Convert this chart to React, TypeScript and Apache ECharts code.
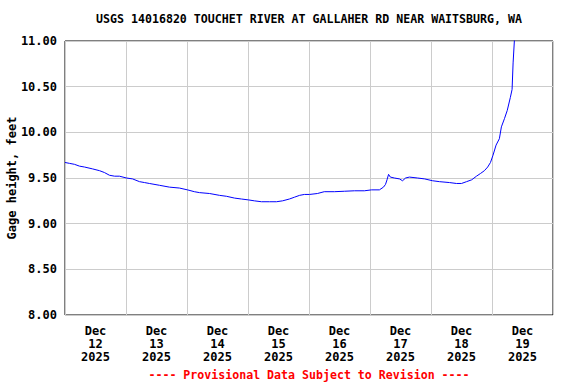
import React, { useEffect, useRef } from "react";
import * as echarts from "echarts";

const TITLE = "USGS 14016820 TOUCHET RIVER AT GALLAHER RD NEAR WAITSBURG, WA";
const FOOTER = "---- Provisional Data Subject to Revision ----";
const Y_NAME = "Gage height, feet";

// hours since Dec 12 2025 00:00
const hours = [
  0, 1.8, 3.7, 5.7, 7.7, 10.8, 13.6, 15.5, 17.5, 19.5, 21.4, 24.2, 26.6, 29.3, 31.3, 33.2,
  37.2, 41.1, 45, 48.2, 50.9, 52.9, 56.9, 60.8, 63.5, 66.7, 69.4, 72.2, 74.5, 77.3, 80.4,
  83.2, 85.6, 88.3, 90.3, 92.3, 94.2, 96.2, 99.3, 102, 106, 110, 113.9, 117.8, 120.6, 123.7,
  125.3, 126.1, 126.7, 127.3, 128, 129.6, 131.6, 132.8, 134, 135.5, 138.7, 141.5, 144.6,
  147.3, 151.3, 154, 156, 158, 160, 161.9, 163.5, 165, 166.3, 167.4, 168.4, 169.6, 170.9,
  171.7, 172.9, 174, 175.2, 175.9, 176.3, 176.9,
];
const heights = [
  9.67, 9.66, 9.65, 9.63, 9.62, 9.6, 9.58, 9.56, 9.53, 9.52, 9.52, 9.5, 9.49, 9.46, 9.45, 9.44,
  9.42, 9.4, 9.39, 9.37, 9.35, 9.34, 9.33, 9.31, 9.3, 9.28, 9.27, 9.26, 9.25, 9.24, 9.24,
  9.24, 9.25, 9.27, 9.29, 9.31, 9.32, 9.32, 9.33, 9.35, 9.35, 9.355, 9.36, 9.36, 9.37, 9.37,
  9.4, 9.43, 9.48, 9.54, 9.51, 9.5, 9.49, 9.47, 9.5, 9.51, 9.5, 9.49, 9.47,
  9.46, 9.45, 9.44, 9.44, 9.46, 9.48, 9.52, 9.55, 9.58, 9.62, 9.67, 9.75, 9.86, 9.93,
  10.06, 10.15, 10.24, 10.38, 10.47, 10.76, 11.05,
];
const dayLabels = ["Dec\n12\n2025", "Dec\n13\n2025", "Dec\n14\n2025", "Dec\n15\n2025", "Dec\n16\n2025", "Dec\n17\n2025", "Dec\n18\n2025", "Dec\n19\n2025"];

const FONT = "DejaVu Sans Mono";

export default function App() {
  const ref = useRef<HTMLDivElement>(null);
  useEffect(() => {
    if (!ref.current) return;
    const chart = echarts.init(ref.current, null, { renderer: "svg" });
    chart.setOption({
      animation: false,
      backgroundColor: "#ffffff",
      grid: {
        left: 65,
        top: 41,
        right: 23,
        bottom: 69,
        containLabel: false,
        outerBoundsMode: "none",
        show: true,
        borderColor: "#000000",
        borderWidth: 1,
      },
      graphic: [
        {
          type: "text",
          x: 309,
          y: 13,
          style: {
            text: TITLE,
            fill: "#000",
            font: `bold 11.6px "${FONT}"`,
            textAlign: "center",
          },
        },
        {
          type: "text",
          x: 309,
          y: 369,
          style: {
            text: FOOTER,
            fill: "#ff0000",
            font: `bold 11.6px "${FONT}"`,
            textAlign: "center",
          },
        },
      ],
      xAxis: [
        {
          type: "value",
          min: 0,
          max: 192,
          interval: 24,
          axisLabel: { show: false },
          axisTick: { show: false },
          axisLine: { show: false },
          splitLine: { show: true, lineStyle: { color: "#cccccc", width: 1 } },
        },
        {
          type: "category",
          data: dayLabels,
          position: "bottom",
          boundaryGap: true,
          axisLine: { show: false },
          axisTick: { show: false },
          splitLine: { show: false },
          axisLabel: {
            interval: 0,
            margin: 10,
            color: "#000",
            fontFamily: FONT,
            fontWeight: "bold",
            fontSize: 12,
            lineHeight: 12.7,
          },
        },
      ],
      yAxis: {
        type: "value",
        min: 8,
        max: 11,
        interval: 0.5,
        name: Y_NAME,
        nameLocation: "middle",
        nameGap: 47,
        nameRotate: 90,
        nameMoveOverlap: false,
        nameTextStyle: { color: "#000", fontFamily: FONT, fontWeight: "bold", fontSize: 12 },
        axisLine: { show: false },
        axisTick: { show: false },
        axisLabel: {
          margin: 8,
          color: "#000",
          fontFamily: FONT,
          fontWeight: "bold",
          fontSize: 12,
          formatter: (v: number) => v.toFixed(2),
        },
        splitLine: { show: true, lineStyle: { color: "#cccccc", width: 1 } },
      },
      series: [
        {
          type: "line",
          xAxisIndex: 0,
          data: hours.map((h, i) => [h, heights[i]]),
          showSymbol: false,
          lineStyle: { color: "#0000ff", width: 1 },
          clip: true,
        },
      ],
    });
    return () => chart.dispose();
  }, []);
  return <div ref={ref} style={{ width: 576, height: 384, position: "absolute", left: 0, top: 0 }} />;
}
